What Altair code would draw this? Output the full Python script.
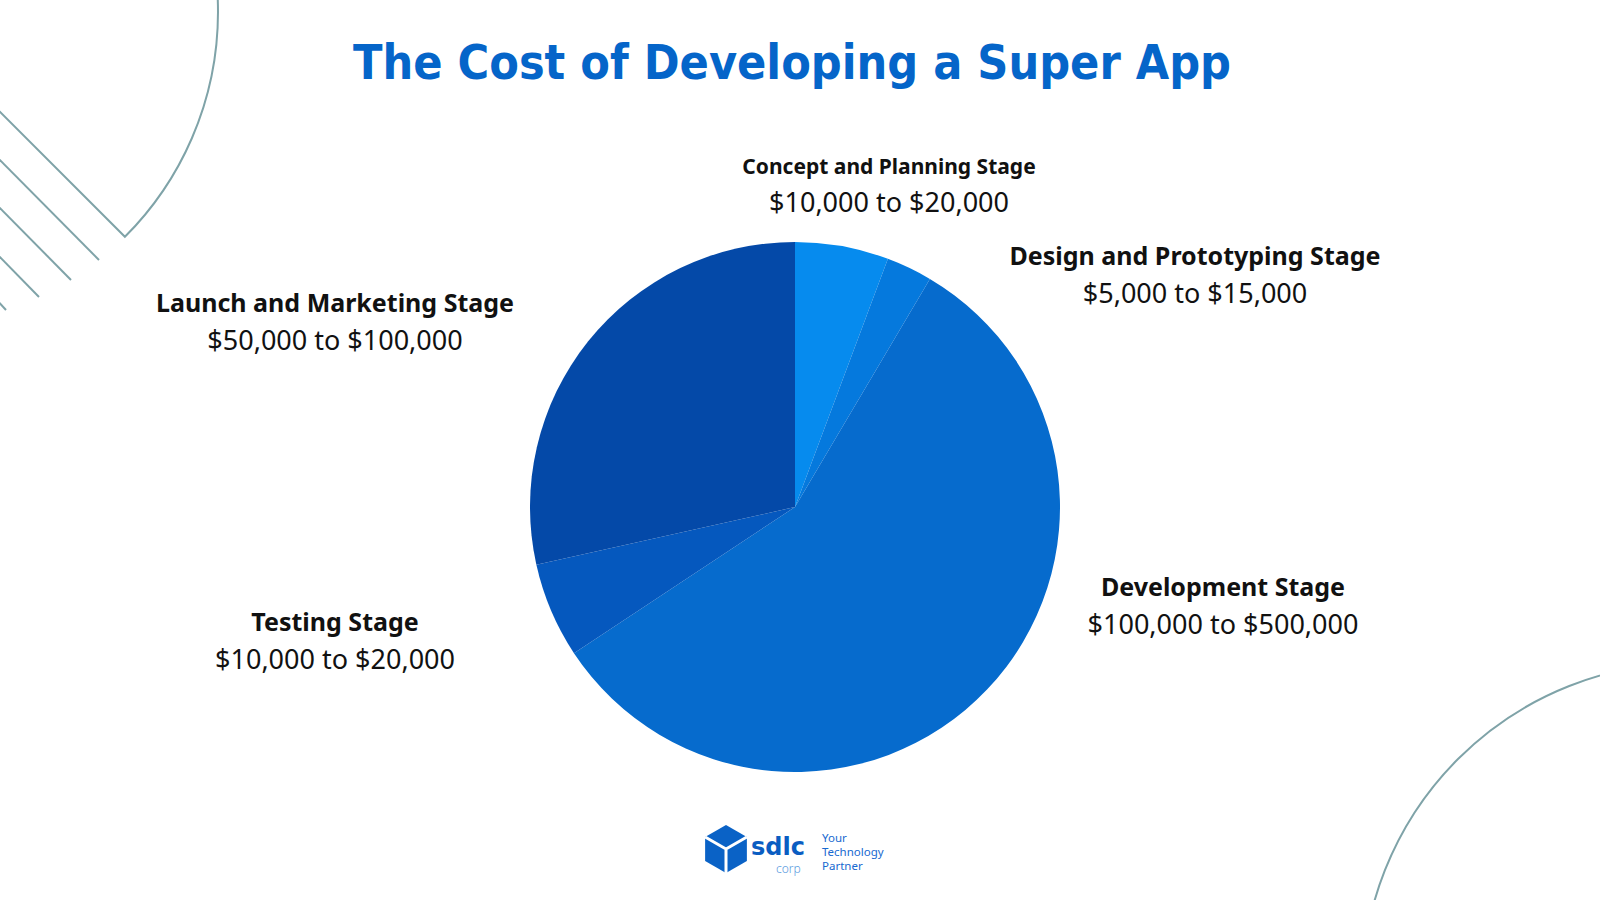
import altair as alt
import pandas as pd

# ---- data ----
stages = ["Concept and Planning Stage", "Design and Prototyping Stage", "Development Stage",
          "Testing Stage", "Launch and Marketing Stage"]
cost_ranges = ["$10,000 to $20,000", "$5,000 to $15,000", "$100,000 to $500,000",
               "$10,000 to $20,000", "$50,000 to $100,000"]
shares = [5.7, 2.8, 57.2, 5.8, 28.5]   # share of the pie (%)
slice_colors = ["#068BEE", "#0579DD", "#066BCD", "#0558BE", "#0449A8"]

title_text = "The Cost of Developing a Super App"
logo_word = "sdlc"
logo_sub = "corp"
tagline = ["Your", "Technology", "Partner"]

pie_df = pd.DataFrame({"stage": stages, "share": shares, "order": list(range(len(stages)))})

W, H = 1600, 900
DECO = "#7FA3A8"
LABEL_FONT = "Noto Sans"

layers = []

# decorative shapes
layers.append(
    alt.Chart(pie_df).mark_arc(radius=318, theta=0.785, theta2=2.356, fillOpacity=0,
                               stroke=DECO, strokeWidth=2, clip=True)
    .encode(x=alt.value(-100), y=alt.value(12)).transform_filter("datum.order == 0")
)
layers.append(
    alt.Chart(pie_df).mark_arc(radius=328, theta=0, theta2=6.2832, fillOpacity=0,
                               stroke=DECO, strokeWidth=2, clip=True)
    .encode(x=alt.value(1690), y=alt.value(991)).transform_filter("datum.order == 0")
)
for (x1, y1, x2, y2) in [(-5, 155, 99, 260), (-5, 203, 71, 280), (-5, 252, 39, 297), (-5, 298, 6, 310)]:
    layers.append(
        alt.Chart(pie_df).mark_rule(stroke=DECO, strokeWidth=2, clip=True)
        .encode(x=alt.value(x1), y=alt.value(y1), x2=alt.value(x2), y2=alt.value(y2))
        .transform_filter("datum.order == 0")
    )

# pie
layers.append(
    alt.Chart(pie_df).mark_arc(radius=265)
    .encode(
        theta=alt.Theta("share:Q", stack=True),
        order=alt.Order("order:Q"),
        color=alt.Color("stage:N", scale=alt.Scale(domain=stages, range=slice_colors), legend=None),
        x=alt.value(795), y=alt.value(507),
    )
)

# title
layers.append(
    alt.Chart(pie_df).mark_text(text=title_text,
                                font="DejaVu Sans Condensed, Liberation Sans Narrow, DejaVu Sans, sans-serif",
                                fontWeight="bold", fontSize=48, color="#0565C9", align="center",
                                baseline="alphabetic")
    .encode(x=alt.value(792), y=alt.value(79)).transform_filter("datum.order == 0")
)

# labels
label_pos = [(889, 168, 204, 21), (1195, 257, 295, 25), (1223, 588, 626, 25),
             (335, 623, 661, 25), (335, 304, 342, 25)]
for i, (lx, ly1, ly2, fs) in enumerate(label_pos):
    layers.append(
        alt.Chart(pie_df).mark_text(font=LABEL_FONT, fontWeight="bold", fontSize=fs, color="#111111",
                                    align="center", baseline="middle")
        .encode(x=alt.value(lx), y=alt.value(ly1), text="stage:N")
        .transform_filter(f"datum.order == {i}")
    )
    layers.append(
        alt.Chart(pie_df).mark_text(text=cost_ranges[i], font=LABEL_FONT, fontSize=27, color="#111111",
                                    align="center", baseline="middle")
        .encode(x=alt.value(lx), y=alt.value(ly2))
        .transform_filter(f"datum.order == {i}")
    )

# logo
hexagon = "M0,-1L0.87,-0.5L0.87,0.5L0,1L-0.87,0.5L-0.87,-0.5Z"
yshape = "M0,0L0,1M0,0L-0.87,-0.5M0,0L0.87,-0.5"
layers.append(
    alt.Chart(pie_df).mark_point(shape=hexagon, size=2304, filled=True, color="#0A62C6", opacity=1)
    .encode(x=alt.value(726), y=alt.value(849)).transform_filter("datum.order == 0")
)
layers.append(
    alt.Chart(pie_df).mark_point(shape=yshape, size=2304, filled=False, stroke="white", strokeWidth=3, opacity=1)
    .encode(x=alt.value(726), y=alt.value(849)).transform_filter("datum.order == 0")
)
layers.append(
    alt.Chart(pie_df).mark_text(text=logo_word, font="DejaVu Sans", fontWeight="bold", fontSize=24,
                                color="#0A5DC2", align="left", baseline="alphabetic")
    .encode(x=alt.value(751), y=alt.value(855)).transform_filter("datum.order == 0")
)
layers.append(
    alt.Chart(pie_df).mark_text(text=logo_sub, font="Noto Sans", fontWeight=300, fontSize=12,
                                color="#5A9BE0", align="left", baseline="alphabetic")
    .encode(x=alt.value(776), y=alt.value(873)).transform_filter("datum.order == 0")
)
for j, (t, yy) in enumerate(zip(tagline, [841.5, 855.5, 869.5])):
    layers.append(
        alt.Chart(pie_df).mark_text(text=t, font="Noto Sans", fontSize=11.5, color="#1769D0",
                                    align="left", baseline="alphabetic")
        .encode(x=alt.value(822), y=alt.value(yy)).transform_filter("datum.order == 0")
    )

chart = alt.layer(*layers).properties(
    width=W, height=H, padding=0, autosize="none", background="white"
).configure_view(strokeWidth=0)

chart.save("out.html", embed_options={"renderer": "svg", "actions": False})
